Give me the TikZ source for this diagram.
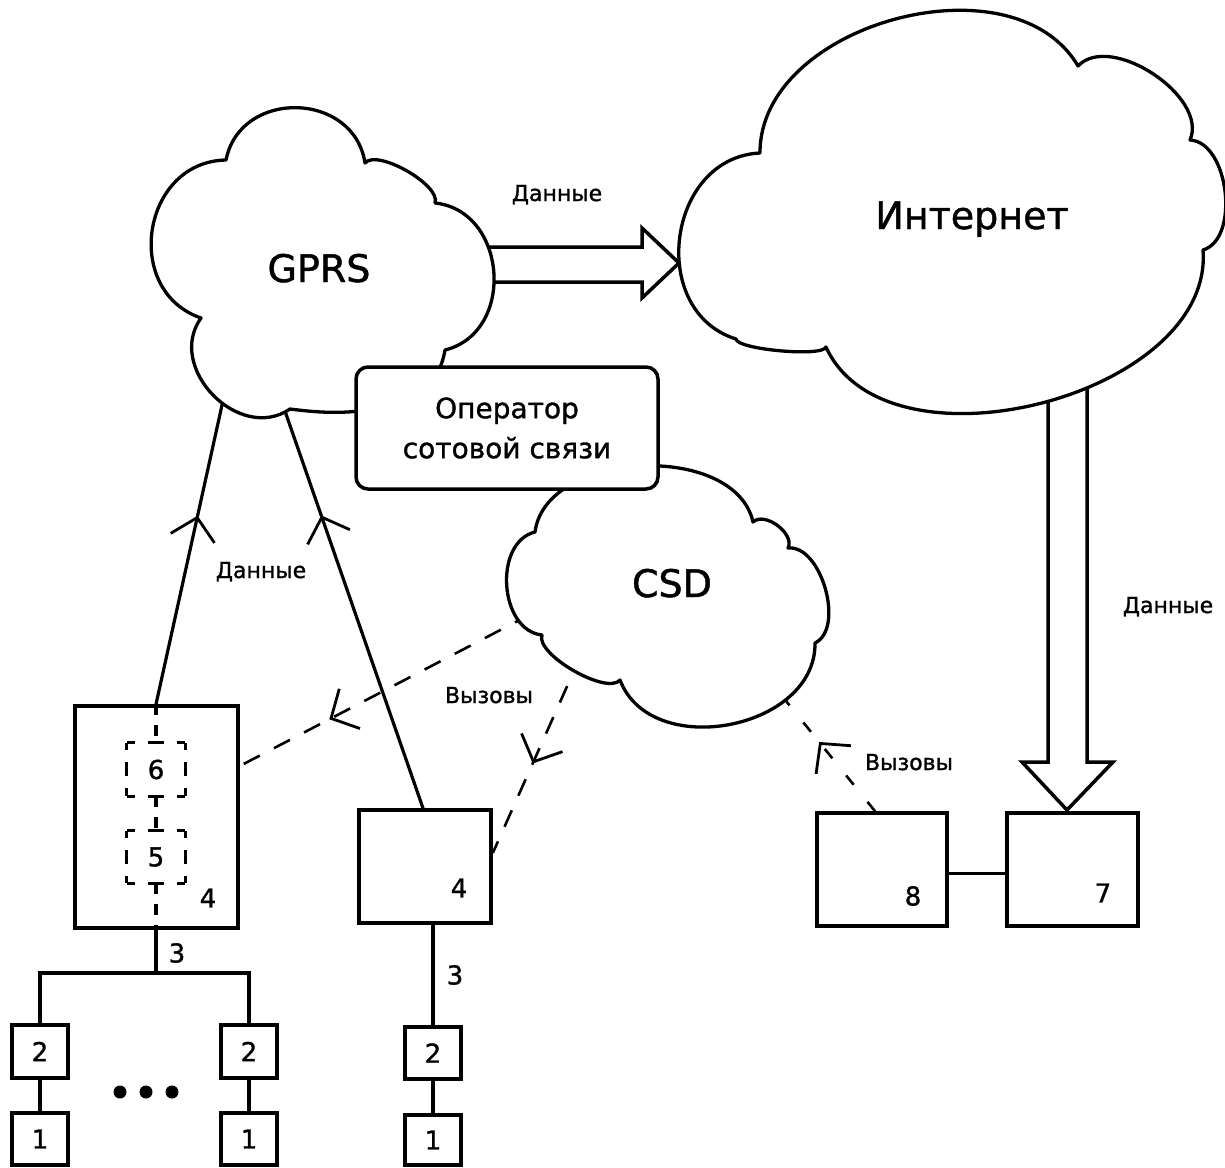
\documentclass[tikz,border=0pt]{standalone}
\usepackage{fontspec}
\setmainfont{DejaVu Sans}[FakeBold=1.2]
\usetikzlibrary{arrows.meta,decorations.markings}
\begin{document}
\begin{tikzpicture}[x=1pt,y=1pt,
  lw/.style={line width=3.5pt},
  cloudline/.style={line width=3.3pt, fill=white, line join=round},
  blk/.style={draw, line width=3.6pt, fill=white, inner sep=0pt, font=\fontsize{26}{28}\selectfont},
  dbox/.style={inner sep=0pt, minimum width=58pt, font=\fontsize{26}{28}\selectfont},
  hedge/.style={line width=3.2pt, dash pattern=on 16pt off 13pt, dash phase=8pt},
  vedge/.style={line width=3.2pt, dash pattern=on 14pt off 12pt, dash phase=7pt},
  indash/.style={line width=3.2pt, dash pattern=on 11pt off 10pt},
  calls/.style={line width=2.6pt, dash pattern=on 18pt off 16pt},
  barb/.style={postaction={decorate,decoration={markings,mark=at position #1 with {\arrow[line width=2.8pt]{Straight Barb[length=15pt,width=32pt,scale=1.4]}}}}},
  digit/.style={inner sep=0pt, font=\fontsize{26}{28}\selectfont},
  lbl/.style={inner sep=0pt, anchor=base, font=\fontsize{22}{26}\selectfont},
  big/.style={inner sep=0pt, anchor=base, font=\fontsize{38}{44}\selectfont}
]
\useasboundingbox (0,0) rectangle (1225,-1167);

% ---------- hollow data arrows ----------
\draw[lw, line join=miter] (470,-247) -- (642,-247) -- (642,-228) -- (679,-263)
  -- (642,-298) -- (642,-282) -- (470,-282);
\draw[lw, line join=miter] (1048,-380) -- (1048,-762) -- (1022,-762) -- (1067,-810)
  -- (1113,-762) -- (1087,-762) -- (1087,-380);

% ---------- boxes ----------
\node[blk, minimum width=163pt, minimum height=222pt] (box4L) at (156.5,-817) {};
\node[blk, minimum width=132pt, minimum height=113pt] (box4R) at (425,-866.5) {};
\node[blk, minimum width=56pt, minimum height=53pt] (box2a) at (40,-1051.5) {2};
\node[blk, minimum width=56pt, minimum height=52pt] (box1a) at (40,-1139) {1};
\node[blk, minimum width=56pt, minimum height=53pt] (box2b) at (249,-1051.5) {2};
\node[blk, minimum width=56pt, minimum height=52pt] (box1b) at (249,-1139) {1};
\node[blk, minimum width=56pt, minimum height=52pt] (box2c) at (433,-1053) {2};
\node[blk, minimum width=56pt, minimum height=50pt] (box1c) at (433,-1140) {1};
\node[blk, minimum width=130pt, minimum height=113pt] (box8) at (882,-869.5) {};
\node[blk, minimum width=131pt, minimum height=113pt] (box7) at (1072.5,-869.5) {};

\node[dbox, minimum height=53pt] (b6) at (156,-769.5) {6};
\node[dbox, minimum height=52pt] (b5) at (156,-857) {5};
\foreach \b in {b6,b5}{
  \draw[hedge] (\b.north west) -- (\b.north east);
  \draw[hedge] (\b.south west) -- (\b.south east);
  \draw[vedge] (\b.north west) -- (\b.south west);
  \draw[vedge] (\b.north east) -- (\b.south east);
}
\coordinate (l1b) at (b6.north |- box4L.north);
\draw[indash] (l1b) -- (b6.north);
\draw[indash] (b6.south) -- (b5.north);
\draw[indash] (b5.south) -- (b5.south |- box4L.south);

\node[digit] (n4L) at (208,-898) {4};
\node[digit] (n4R) at (459,-888) {4};
\node[digit] (n8) at (913,-896) {8};
\node[digit] (n7) at (1103,-893) {7};
\node[digit] (n3L) at (177,-953) {3};
\node[digit] (n3R) at (455,-975) {3};

% bus and tree
\coordinate (busc) at (b5.south |- 0,-973);
\draw[lw] (b5.south |- box4L.south) -- (busc);
\draw[lw] (box2a.north) |- (busc) -| (box2b.north);
\draw[lw] (box2a.south) -- (box1a.north);
\draw[lw] (box2b.south) -- (box1b.north);
\draw[lw] (box2c.south) -- (box1c.north);
\draw[lw] (box2c.north) -- (box2c.north |- box4R.south);
\draw[lw] ([yshift=-4pt]box8.east) -- ([yshift=-4pt]box7.west);
\foreach \x/\n in {120/da,146/db,172/dc} \fill (\x,-1092) circle (6.5pt) coordinate (\n);

% ---------- cloud attachment coordinates ----------
\coordinate (g1) at (228,-378);
\coordinate (g2) at (278,-391);
\coordinate (c1) at (531,-614);
\coordinate (c2) at (581,-655);
\coordinate (c3) at (782,-696);

% ---------- connectors ----------
\draw[lw, line width=3.2pt, barb=193pt] (l1b) -- (g1);
\draw[lw, line width=3.2pt, barb=310pt] (box4R.north -| 423,0) -- (g2);
\draw[calls, barb=-101pt] (c1) -- (box4L.east |- 0,-766);
\draw[calls, barb=-98pt] (c2) -- (box4R.east |- 0,-853);
\draw[line width=2.6pt, dash pattern=on 12pt off 22pt, barb=89pt] (box8.north -| 875,0) -- (c3);

% ---------- clouds ----------
% GPRS
\draw[cloudline] (201,-318)
  to[bend left=80, looseness=1.34] (226,-160)
  to[bend left=80, looseness=1.34] (365,-163)
  to[bend left=80, looseness=0.6] (435,-203)
  to[bend left=80, looseness=1.27] (445,-350)
  to[bend left=30] (400,-404)
  to[bend left=10] (290,-409)
  to[bend left=80, looseness=1.23] (201,-318) -- cycle;
% CSD
\draw[cloudline] (535,-532)
  to[bend left=80, looseness=0.97] (753,-522)
  to[bend left=80, looseness=0.94] (788,-548)
  to[bend left=80, looseness=0.87] (815,-643)
  to[bend left=80, looseness=1.12] (620,-680)
  to[bend left=80, looseness=0.58] (542,-635)
  to[bend left=80, looseness=1.07] (535,-532) -- cycle;
% Internet
\draw[cloudline] (736,-339)
  to[bend left=80, looseness=1.27] (760,-153)
  to[bend left=75, looseness=1.0] (1078,-66)
  to[bend left=80, looseness=0.9] (1190,-140)
  to[bend left=80, looseness=0.9] (1203,-250)
  to[bend left=80, looseness=0.96] (826,-347)
  to[bend left=80, looseness=0.3] (736,-339) -- cycle;

% operator box
\node[draw, line width=3.5pt, fill=white, rounded corners=12pt, minimum width=302pt,
  minimum height=122pt, align=center, font=\fontsize{28}{40}\selectfont] (op)
  at (507,-428) {Оператор\\сотовой связи};

% ---------- texts ----------
\node[big] (gprs) at (319,-282) {GPRS};
\node[big] (inet) at (972,-229) {Интернет};
\node[big] (csd) at (672,-597) {CSD};
\node[lbl] (d1) at (557,-201) {Данные};
\node[lbl] (d2) at (261,-578) {Данные};
\node[lbl] (d3) at (1168,-613) {Данные};
\node[lbl] (v1) at (489,-703) {Вызовы};
\node[lbl] (v2) at (909,-770) {Вызовы};
\end{tikzpicture}
\end{document}
